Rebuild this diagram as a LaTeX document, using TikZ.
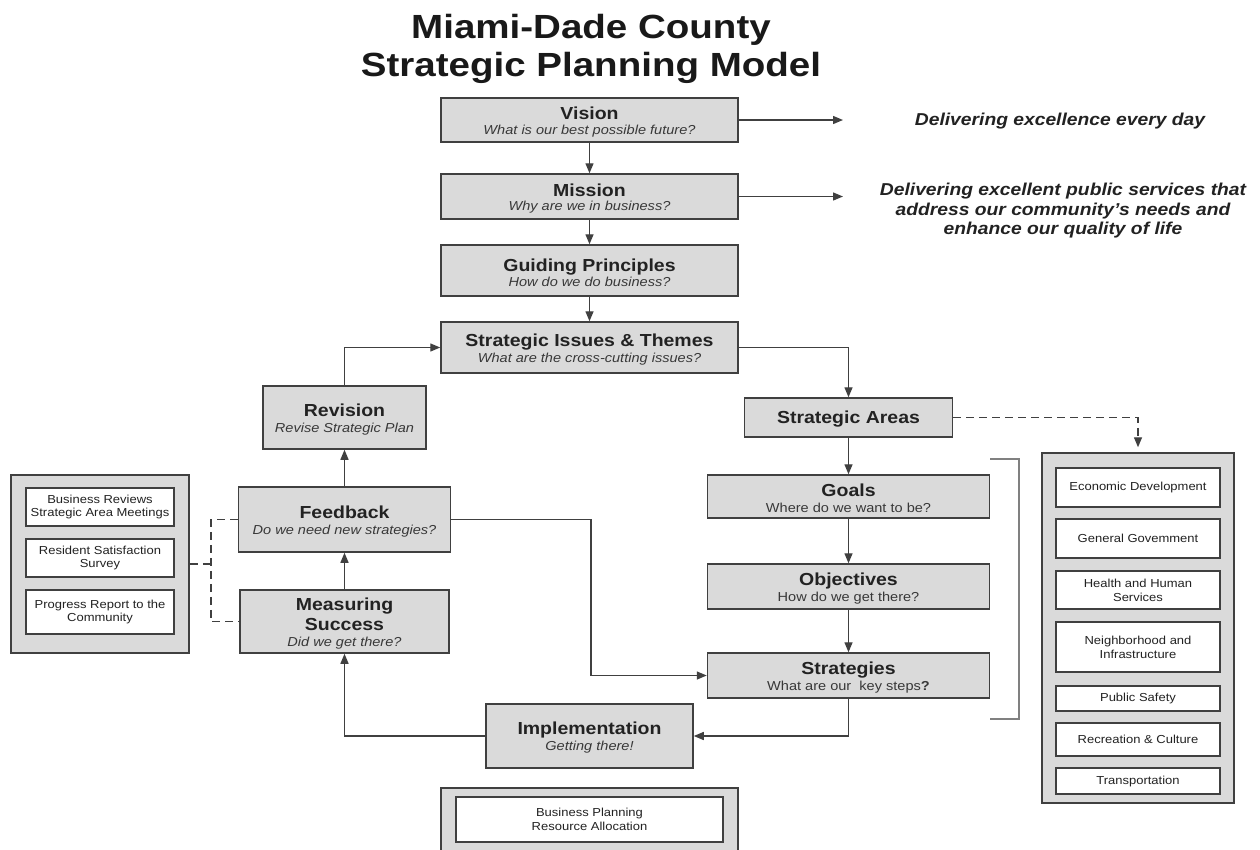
\documentclass[tikz,border=0pt]{standalone}
\usepackage{fontspec}
\setmainfont{Liberation Sans}[FakeStretch=1.12]
\newfontfamily\titlefont{Liberation Sans}[FakeStretch=1.15]
\usetikzlibrary{arrows.meta}
\definecolor{boxfill}{HTML}{DADADA}
\definecolor{edge}{HTML}{404040}
\definecolor{txt}{HTML}{222222}
\definecolor{subtxt}{HTML}{383838}
\definecolor{brk}{HTML}{808080}
\newcommand{\bt}[1]{{\fontsize{17.4}{16}\selectfont\bfseries\rule{0pt}{16.5pt}#1}}
\newcommand{\btn}[1]{{\fontsize{17.4}{16}\selectfont\bfseries #1}}
\newcommand{\st}[1]{{\fontsize{13}{16}\selectfont\itshape\color{subtxt}#1}}
\newcommand{\rt}[1]{{\fontsize{13}{16}\selectfont\color{subtxt}#1}}
\tikzset{
 box/.style={draw=edge, line width=1.5pt, fill=boxfill, inner sep=0pt, align=center, text=txt, font=\fontsize{13}{16}\selectfont},
 wbox/.style={draw=edge, line width=1.2pt, fill=white, inner sep=0pt, align=center, text=txt, font=\fontsize{11.6}{13.8}\selectfont},
 cont/.style={draw=edge, line width=1.5pt, fill=boxfill, inner sep=0pt},
 conn/.style={draw=edge, line width=1.4pt},
 tip/.style={-{Triangle[length=10pt,width=8pt]}},
 arr/.style={conn, tip},
 dsh/.style={conn, dash pattern=on 8pt off 5pt},
 quote/.style={align=center, text=txt, font=\fontsize{17.2}{19.5}\selectfont\bfseries\itshape},
}
\begin{document}
\begin{tikzpicture}[x=1pt,y=-1pt]
\useasboundingbox (0,0) rectangle (1260,849);
\clip (0,0) rectangle (1260,849);
\fill[white] (0,0) rectangle (1260,849);

% title
\node[align=center, text=black!90, font=\titlefont\fontsize{33.5}{38}\selectfont\bfseries] (title) at (591,49.3)
  {Miami-Dade County\\Strategic Planning Model};

% main column
\node[box, minimum width=297, minimum height=44] (vision) at (589.5,120)
  {\bt{Vision}\\[-1.7pt]\st{What is our best possible future?}};
\node[box, minimum width=297, minimum height=45] (mission) at (589.5,196.5)
  {\bt{Mission}\\[-1.7pt]\st{Why are we in business?}};
\node[box, minimum width=297, minimum height=51] (guiding) at (589.5,270.5)
  {\bt{Guiding Principles}\\[-0.7pt]\st{How do we do business?}};
\node[box, minimum width=297, minimum height=51] (issues) at (589.5,347.5)
  {\bt{Strategic Issues \& Themes}\\[-0.7pt]\st{What are the cross-cutting issues?}};

% right column
\node[box, minimum width=208, minimum height=39] (areas) at (848.5,417.5)
  {\bt{Strategic Areas}};
\node[box, minimum width=282, minimum height=43] (goals) at (848.5,496.5)
  {\bt{Goals}\\\rt{Where do we want to be?}};
\node[box, minimum width=282, minimum height=45] (objectives) at (848.5,586.5)
  {\bt{Objectives}\\\rt{How do we get there?}};
\node[box, minimum width=282, minimum height=45] (strategies) at (848.5,675.5)
  {\bt{Strategies}\\\rt{What are our\ \ key steps\textbf{?}}};

\node[box, minimum width=207, minimum height=64] (implementation) at (589.5,736)
  {\bt{Implementation}\\\st{Getting there!}};

% left column
\node[box, minimum width=163, minimum height=63] (revision) at (344.5,417.5)
  {\bt{Revision}\\\st{Revise Strategic Plan}};
\node[box, minimum width=212, minimum height=65] (feedback) at (344.5,519.5)
  {\bt{Feedback}\\\st{Do we need new strategies?}};
\node[box, minimum width=209, minimum height=63] (measuring) at (344.5,621.5)
  {\bt{Measuring}\\[4pt]\btn{Success}\\\st{Did we get there?}};

% left container
\node[cont, minimum width=178, minimum height=178] (leftc) at (100,564) {};
\node[wbox, minimum width=148, minimum height=38] (br) at (100,507)
  {Business Reviews\\Strategic Area Meetings};
\node[wbox, minimum width=148, minimum height=38] (rs) at (100,558)
  {Resident Satisfaction\\Survey};
\node[wbox, minimum width=148, minimum height=44] (pr) at (100,612)
  {Progress Report to the\\Community};

% right container
\node[cont, minimum width=192, minimum height=350] (rightc) at (1138,628) {};
\node[wbox, minimum width=164, minimum height=39] (ed) at (1138,487.5) {Economic Development};
\node[wbox, minimum width=164, minimum height=39] (gg) at (1138,538.5) {General Govemment};
\node[wbox, minimum width=164, minimum height=38] (hh) at (1138,590) {Health and Human\\Services};
\node[wbox, minimum width=164, minimum height=50] (ni) at (1138,647) {Neighborhood and\\Infrastructure};
\node[wbox, minimum width=164, minimum height=25] (ps) at (1138,698.5) {Public Safety};
\node[wbox, minimum width=164, minimum height=33] (rc) at (1138,739.5) {Recreation \& Culture};
\node[wbox, minimum width=164, minimum height=26] (tr) at (1138,781) {Transportation};

% bottom container
\node[cont, minimum width=297, minimum height=84] (bcont) at (589.5,830) {};
\node[wbox, minimum width=267, minimum height=45] (bp) at (589.5,819.5)
  {Business Planning\\Resource Allocation};

% quotes
\node[quote] (vq) at (1060,121) {Delivering excellence every day};
\node[quote] (mq) at (1063,211)
  {Delivering excellent public services that\\address our community's needs and\\enhance our quality of life};

% coordinates
\coordinate (vend) at (843,120);
\coordinate (mend) at (843,196.5);
\coordinate (fbturn) at (591,519.5);
\coordinate (jt) at (211,519.5);
\coordinate (jb) at (211,621.5);
\coordinate (jm) at (211,564);

% connectors
\draw[arr] (vision.east) -- (vend);
\draw[arr] (mission.east) -- (mend);
\draw[arr] (vision.south) -- (mission.north);
\draw[arr] (mission.south) -- (guiding.north);
\draw[arr] (guiding.south) -- (issues.north);
\draw[arr] (issues.east) -| (areas.north);
\draw[arr] (areas.south) -- (goals.north);
\draw[arr] (goals.south) -- (objectives.north);
\draw[arr] (objectives.south) -- (strategies.north);
\draw[arr] (strategies.south) |- (implementation.east);
\draw[arr] (implementation.west) -| (measuring.south);
\draw[arr] (measuring.north) -- (feedback.south);
\draw[arr] (feedback.north) -- (revision.south);
\draw[arr] (revision.north) |- (issues.west);
\draw[arr] (feedback.east) -- (fbturn) |- (strategies.west);
\draw[dsh, tip] (areas.east) -| ([yshift=5pt]rightc.north);
\draw[dsh] (feedback.west) -- (jt) -- (jb) -- (measuring.west);
\draw[dsh] (leftc.east) -- (jm);

% bracket
\draw[draw=brk, line width=1.3pt] (990,459) -- (1019,459) -- (1019,719) -- (990,719);
\end{tikzpicture}
\end{document}
